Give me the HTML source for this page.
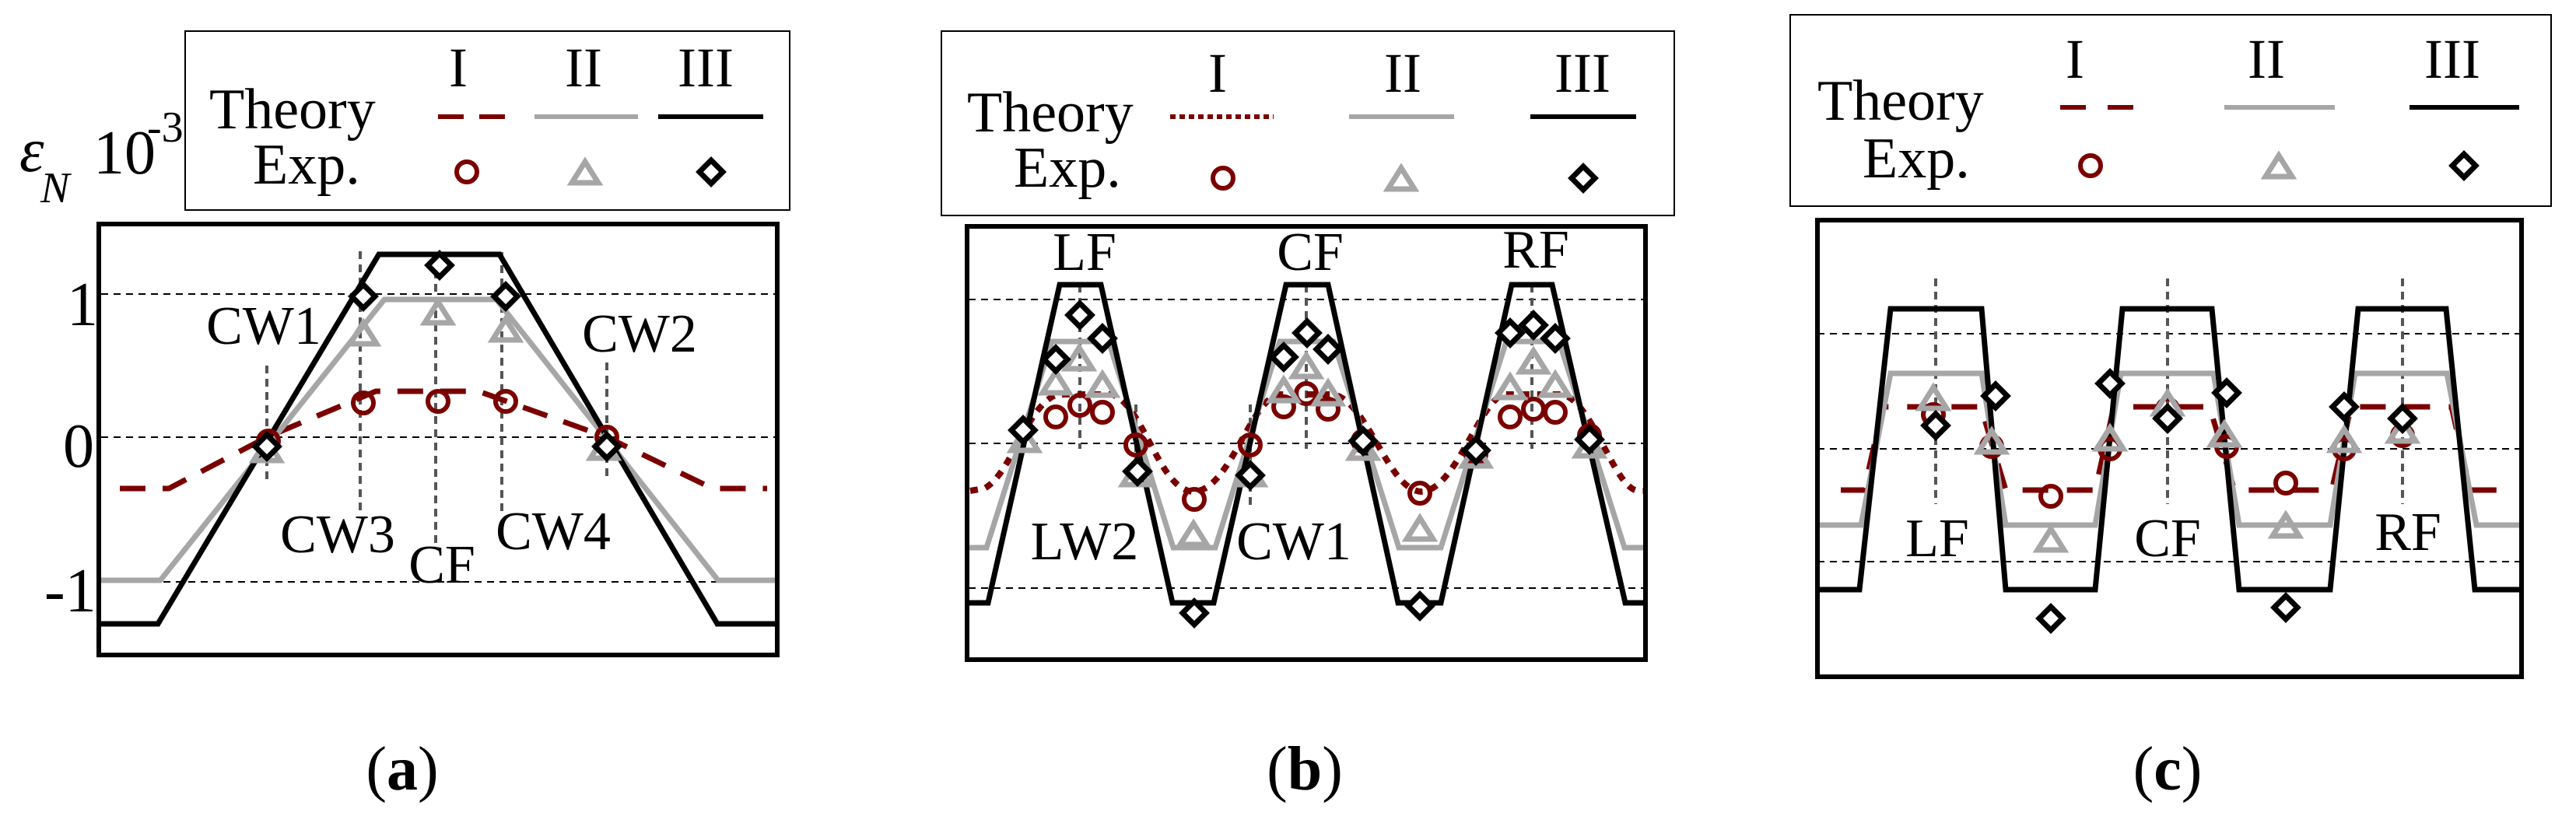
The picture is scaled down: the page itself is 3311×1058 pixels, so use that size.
<!DOCTYPE html>
<html><head><meta charset="utf-8"><style>
html,body{margin:0;padding:0;background:#fff;}
svg{display:block;font-family:"Liberation Serif","DejaVu Serif",serif;}
svg text{font-family:"Liberation Serif","DejaVu Serif",serif;fill:#000;}
</style></head><body>
<svg width="3311" height="1058" viewBox="0 0 3311 1058" xmlns="http://www.w3.org/2000/svg" font-family="Liberation Serif, DejaVu Serif, serif">
<defs>
<g id="ci"><circle r="13" fill="none" stroke="#7a0000" stroke-width="6"/></g>
<g id="tr"><path d="M-17,12 L17,12 L0,-15 Z" fill="none" stroke="#a6a6a6" stroke-width="7" stroke-linejoin="miter"/></g>
<g id="di"><path d="M0,-15 L15,0 L0,15 L-15,0 Z" fill="#fff" stroke="#000" stroke-width="7"/></g>
</defs>

<!-- ================= PANEL A ================= -->
<rect x="238" y="40" width="777" height="230" fill="none" stroke="#000" stroke-width="2"/>
<text font-family="Liberation Serif, serif" x="269" y="165" font-size="74">Theory</text>
<text font-family="Liberation Serif, serif" x="325" y="236" font-size="74">Exp.</text>
<text font-family="Liberation Serif, serif" x="589" y="111" font-size="72" text-anchor="middle">I</text>
<text font-family="Liberation Serif, serif" x="750" y="111" font-size="72" text-anchor="middle">II</text>
<text font-family="Liberation Serif, serif" x="907" y="111" font-size="72" text-anchor="middle">III</text>
<line x1="563" y1="150" x2="663" y2="150" stroke="#7a0000" stroke-width="6" stroke-dasharray="33 20"/>
<line x1="687" y1="150" x2="820" y2="150" stroke="#a6a6a6" stroke-width="6"/>
<line x1="846" y1="150" x2="981" y2="150" stroke="#000" stroke-width="6"/>
<use href="#ci" x="600" y="221"/><use href="#tr" x="752" y="223"/><use href="#di" x="914" y="221"/>

<text font-family="Liberation Serif, serif" x="25" y="220" font-size="80" font-style="italic">ε</text>
<text font-family="Liberation Serif, serif" x="52" y="260" font-size="56" font-style="italic">N</text>
<text font-family="Liberation Serif, serif" x="120" y="223" font-size="80">10</text>
<text font-family="Liberation Serif, serif" x="189" y="182" font-size="56">-3</text>
<text font-family="Liberation Serif, serif" x="86" y="418" font-size="80">1</text>
<text font-family="Liberation Serif, serif" x="81" y="600" font-size="80">0</text>
<text font-family="Liberation Serif, serif" x="57" y="786" font-size="80">-1</text>

<g stroke="#000" stroke-width="2" stroke-dasharray="9 7">
<line x1="130" y1="378" x2="997" y2="378"/><line x1="130" y1="562" x2="997" y2="562"/><line x1="130" y1="748" x2="997" y2="748"/>
</g>
<g stroke="#555" stroke-width="4" stroke-dasharray="10 7">
<line x1="343" y1="470" x2="343" y2="619"/><line x1="463" y1="323" x2="463" y2="660"/><line x1="560" y1="331" x2="560" y2="698"/><line x1="645" y1="324" x2="645" y2="658"/><line x1="780" y1="466" x2="780" y2="615"/>
</g>
<polyline points="154,628 217,628 343,562 483,503 615,503 780,562 916,628 986,628" fill="none" stroke="#7a0000" stroke-width="7" stroke-dasharray="33 22"/>
<polyline points="129,746 206,746 494,385 638,385 923,746 997,746" fill="none" stroke="#a6a6a6" stroke-width="7"/>
<polyline points="129,802 203,802 487,327 642,327 922,802 997,802" fill="none" stroke="#000" stroke-width="7"/>
<use href="#ci" x="345" y="567"/><use href="#ci" x="467" y="518"/><use href="#ci" x="563" y="516"/><use href="#ci" x="650" y="516"/><use href="#ci" x="780" y="562"/>
<use href="#tr" x="343" y="580"/><use href="#tr" x="467" y="430"/><use href="#tr" x="563" y="403"/><use href="#tr" x="650" y="425"/><use href="#tr" x="776" y="577"/>
<use href="#di" x="343" y="574"/><use href="#di" x="467" y="381"/><use href="#di" x="565" y="341"/><use href="#di" x="650" y="381"/><use href="#di" x="780" y="574"/>
<rect x="127" y="288" width="872" height="554" fill="none" stroke="#000" stroke-width="6"/>
<g font-size="70" text-anchor="middle" font-family="Liberation Serif, serif">
<text x="339" y="442">CW1</text><text x="822" y="452">CW2</text><text x="434" y="710">CW3</text><text x="568" y="749">CF</text><text x="711" y="706">CW4</text>
</g>
<text font-family="Liberation Serif, serif" x="517" y="1015" font-size="80" text-anchor="middle">(<tspan font-weight="bold">a</tspan>)</text>

<!-- ================= PANEL B ================= -->
<rect x="1210" y="40" width="942" height="237" fill="none" stroke="#000" stroke-width="2"/>
<text font-family="Liberation Serif, serif" x="1243" y="169" font-size="74">Theory</text>
<text font-family="Liberation Serif, serif" x="1303" y="240" font-size="74">Exp.</text>
<text font-family="Liberation Serif, serif" x="1565" y="118" font-size="72" text-anchor="middle">I</text>
<text font-family="Liberation Serif, serif" x="1803" y="118" font-size="72" text-anchor="middle">II</text>
<text font-family="Liberation Serif, serif" x="2034" y="118" font-size="72" text-anchor="middle">III</text>
<line x1="1504" y1="150" x2="1637" y2="150" stroke="#7a0000" stroke-width="6" stroke-dasharray="7 5"/>
<line x1="1734" y1="150" x2="1869" y2="150" stroke="#a6a6a6" stroke-width="6"/>
<line x1="1967" y1="150" x2="2103" y2="150" stroke="#000" stroke-width="6"/>
<use href="#ci" x="1572" y="229"/><use href="#tr" x="1801" y="231"/><use href="#di" x="2035" y="229"/>

<g stroke="#000" stroke-width="2" stroke-dasharray="9 7">
<line x1="1245" y1="385" x2="2113" y2="385"/><line x1="1245" y1="570" x2="2113" y2="570"/><line x1="1245" y1="756" x2="2113" y2="756"/>
</g>
<g stroke="#555" stroke-width="4" stroke-dasharray="10 7">
<line x1="1388" y1="366" x2="1388" y2="577"/><line x1="1460" y1="520" x2="1460" y2="624"/><line x1="1607" y1="520" x2="1607" y2="655"/><line x1="1679" y1="366" x2="1679" y2="577"/><line x1="1969" y1="366" x2="1969" y2="577"/>
</g>
<path d="M1247,631 L1265,628 C1300,610 1320,520 1359,507 L1429,507 C1470,520 1490,631 1534,632 C1580,631 1605,520 1642,507 L1715,507 C1760,520 1785,631 1827,632 C1870,631 1900,520 1932,507 L2009,507 C2050,520 2075,631 2107,631 L2113,631" fill="none" stroke="#7a0000" stroke-width="8" stroke-dasharray="10 10"/>
<polyline points="1245,704 1268,704 1352,439 1425,439 1508,704 1562,704 1645,439 1714,439 1798,704 1852,704 1936,439 2004,439 2088,704 2113,704" fill="none" stroke="#a6a6a6" stroke-width="7"/>
<polyline points="1245,775 1270,775 1362,366 1415,366 1507,775 1560,775 1653,366 1707,366 1797,775 1852,775 1943,366 1995,366 2089,775 2113,775" fill="none" stroke="#000" stroke-width="7"/>
<g>
<use href="#ci" x="1357" y="536"/><use href="#ci" x="1388" y="521"/><use href="#ci" x="1417" y="530"/><use href="#ci" x="1460" y="572"/><use href="#ci" x="1535" y="642"/><use href="#ci" x="1607" y="572"/><use href="#ci" x="1650" y="523"/><use href="#ci" x="1679" y="506"/><use href="#ci" x="1707" y="526"/><use href="#ci" x="1752" y="567"/><use href="#ci" x="1825" y="634"/><use href="#ci" x="1897" y="584"/><use href="#ci" x="1941" y="536"/><use href="#ci" x="1971" y="526"/><use href="#ci" x="1999" y="530"/><use href="#ci" x="2043" y="560"/>
<use href="#tr" x="1317" y="567"/><use href="#tr" x="1357" y="493"/><use href="#tr" x="1387" y="462"/><use href="#tr" x="1417" y="496"/><use href="#tr" x="1460" y="611"/><use href="#tr" x="1534" y="688"/><use href="#tr" x="1607" y="611"/><use href="#tr" x="1650" y="503"/><use href="#tr" x="1679" y="472"/><use href="#tr" x="1707" y="507"/><use href="#tr" x="1752" y="577"/><use href="#tr" x="1825" y="681"/><use href="#tr" x="1897" y="587"/><use href="#tr" x="1941" y="499"/><use href="#tr" x="1971" y="466"/><use href="#tr" x="1999" y="496"/><use href="#tr" x="2043" y="574"/>
<use href="#di" x="1315" y="553"/><use href="#di" x="1357" y="462"/><use href="#di" x="1388" y="405"/><use href="#di" x="1417" y="435"/><use href="#di" x="1462" y="606"/><use href="#di" x="1535" y="788"/><use href="#di" x="1607" y="611"/><use href="#di" x="1650" y="459"/><use href="#di" x="1680" y="428"/><use href="#di" x="1707" y="449"/><use href="#di" x="1752" y="567"/><use href="#di" x="1825" y="779"/><use href="#di" x="1897" y="579"/><use href="#di" x="1941" y="428"/><use href="#di" x="1971" y="418"/><use href="#di" x="1999" y="435"/><use href="#di" x="2043" y="565"/>
</g>
<rect x="1243" y="291" width="872" height="557" fill="none" stroke="#000" stroke-width="6"/>
<g font-size="70" text-anchor="middle" font-family="Liberation Serif, serif">
<text x="1394" y="347">LF</text><text x="1684" y="347">CF</text><text x="1974" y="344">RF</text><text x="1394" y="719">LW2</text><text x="1663" y="719">CW1</text>
</g>
<text font-family="Liberation Serif, serif" x="1677" y="1015" font-size="80" text-anchor="middle">(<tspan font-weight="bold">b</tspan>)</text>

<!-- ================= PANEL C ================= -->
<rect x="2301" y="19" width="978" height="246" fill="none" stroke="#000" stroke-width="2"/>
<text font-family="Liberation Serif, serif" x="2336" y="154" font-size="74">Theory</text>
<text font-family="Liberation Serif, serif" x="2394" y="228" font-size="74">Exp.</text>
<text font-family="Liberation Serif, serif" x="2667" y="100" font-size="72" text-anchor="middle">I</text>
<text font-family="Liberation Serif, serif" x="2913" y="100" font-size="72" text-anchor="middle">II</text>
<text font-family="Liberation Serif, serif" x="3152" y="100" font-size="72" text-anchor="middle">III</text>
<line x1="2648" y1="138" x2="2750" y2="138" stroke="#7a0000" stroke-width="6" stroke-dasharray="33 28"/>
<line x1="2859" y1="138" x2="3001" y2="138" stroke="#a6a6a6" stroke-width="6"/>
<line x1="3097" y1="138" x2="3238" y2="138" stroke="#000" stroke-width="6"/>
<use href="#ci" x="2687" y="213"/><use href="#tr" x="2929" y="215"/><use href="#di" x="3167" y="213"/>

<g stroke="#000" stroke-width="2" stroke-dasharray="9 7">
<line x1="2336" y1="429" x2="3239" y2="429"/><line x1="2336" y1="577" x2="3239" y2="577"/><line x1="2336" y1="722" x2="3239" y2="722"/>
</g>
<g stroke="#555" stroke-width="4" stroke-dasharray="10 7">
<line x1="2488" y1="358" x2="2488" y2="648"/><line x1="2786" y1="358" x2="2786" y2="648"/><line x1="3088" y1="358" x2="3088" y2="648"/>
</g>
<polyline points="2366,630 2396,630 2420,523 2546,523 2578,630 2693,630 2717,523 2840,523 2872,630 2997,630 3022,523 3151,523 3175,630 3214,630" fill="none" stroke="#7a0000" stroke-width="7" stroke-dasharray="33 24"/>
<polyline points="2338,675 2392,675 2430,480 2547,480 2578,675 2693,675 2726,480 2845,480 2878,675 2995,675 3027,480 3145,480 3183,675 3239,675" fill="none" stroke="#a6a6a6" stroke-width="7"/>
<polyline points="2338,758 2390,758 2430,397 2547,397 2578,758 2693,758 2728,397 2843,397 2878,758 2995,758 3031,397 3144,397 3181,758 3239,758" fill="none" stroke="#000" stroke-width="7"/>
<g>
<use href="#ci" x="2485" y="533"/><use href="#ci" x="2560" y="574"/><use href="#ci" x="2636" y="638"/><use href="#ci" x="2712" y="577"/><use href="#ci" x="2786" y="526"/><use href="#ci" x="2862" y="574"/><use href="#ci" x="2938" y="621"/><use href="#ci" x="3013" y="577"/><use href="#ci" x="3088" y="560"/>
<use href="#tr" x="2485" y="513"/><use href="#tr" x="2560" y="569"/><use href="#tr" x="2636" y="695"/><use href="#tr" x="2712" y="565"/><use href="#tr" x="2786" y="520"/><use href="#tr" x="2859" y="560"/><use href="#tr" x="2938" y="677"/><use href="#tr" x="3013" y="567"/><use href="#tr" x="3088" y="555"/>
<use href="#di" x="2488" y="547"/><use href="#di" x="2565" y="509"/><use href="#di" x="2636" y="795"/><use href="#di" x="2712" y="493"/><use href="#di" x="2786" y="538"/><use href="#di" x="2862" y="505"/><use href="#di" x="2938" y="781"/><use href="#di" x="3013" y="523"/><use href="#di" x="3088" y="538"/>
</g>
<rect x="2336" y="283" width="905" height="587" fill="none" stroke="#000" stroke-width="6"/>
<g font-size="70" text-anchor="middle" font-family="Liberation Serif, serif">
<text x="2490" y="715">LF</text><text x="2786" y="715">CF</text><text x="3095" y="707">RF</text>
</g>
<text font-family="Liberation Serif, serif" x="2786" y="1015" font-size="80" text-anchor="middle">(<tspan font-weight="bold">c</tspan>)</text>
</svg>
</body></html>
